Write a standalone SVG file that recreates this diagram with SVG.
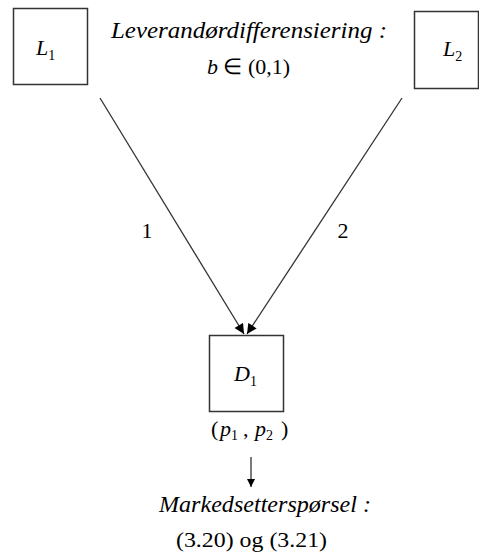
<svg xmlns="http://www.w3.org/2000/svg" width="479" height="557" viewBox="0 0 479 557">
<style>
.box{fill:#fff;stroke:#333;stroke-width:1.5}
.t{font-family:"Liberation Serif","Times New Roman",serif;font-size:22px;fill:#000}
.i{font-style:italic}
.sub{font-size:14px}
.ln{stroke:#333;stroke-width:1.3;fill:none}
</style>
<defs>
<marker id="ah" viewBox="0 0 10 10" refX="10" refY="5" markerWidth="9" markerHeight="8" markerUnits="userSpaceOnUse" orient="auto">
<path d="M0,0 L10,5 L0,10 z" fill="#000"/>
</marker>
<marker id="ah2" viewBox="0 0 10 10" refX="10" refY="5" markerWidth="11" markerHeight="10" markerUnits="userSpaceOnUse" orient="auto">
<path d="M0,0 L10,5 L0,10 z" fill="#000"/>
</marker>
</defs>
<rect width="479" height="557" fill="#fff"/>
<g id="connectors">
<line class="ln" x1="100" y1="98" x2="244" y2="334" marker-end="url(#ah2)"/>
<line class="ln" x1="402" y1="98" x2="247" y2="334" marker-end="url(#ah2)"/>
<line class="ln" x1="251" y1="457" x2="251" y2="487" marker-end="url(#ah)"/>
<text class="t" x="147" y="238" text-anchor="middle">1</text>
<text class="t" x="343" y="238" text-anchor="middle">2</text>
</g>
<g id="L1">
<rect class="box" x="13.5" y="8.5" width="74" height="76"/>
<text class="t" x="36" y="55"><tspan class="i">L</tspan><tspan class="sub" dy="5">1</tspan></text>
</g>
<g id="L2">
<rect class="box" x="414.5" y="11.5" width="64" height="77"/>
<text class="t" x="443" y="56"><tspan class="i">L</tspan><tspan class="sub" dy="5">2</tspan></text>
</g>
<g id="note">
<text class="t i" x="111" y="38" textLength="276" lengthAdjust="spacingAndGlyphs" style="font-size:23px">Leverandørdifferensiering :</text>
<text class="t" x="207" y="74" textLength="83" lengthAdjust="spacingAndGlyphs"><tspan class="i">b</tspan> ∈ (0,1)</text>
</g>
<g id="D1">
<rect class="box" x="209.5" y="335.5" width="74" height="76"/>
<text class="t" x="234" y="381"><tspan class="i">D</tspan><tspan class="sub" dy="5">1</tspan></text>
<text class="t" y="436"><tspan x="211">(</tspan><tspan class="i" x="220">p</tspan><tspan class="sub" dy="4">1</tspan><tspan x="243" dy="-4">,</tspan><tspan class="i" x="255">p</tspan><tspan class="sub" dy="4">2</tspan><tspan x="281" dy="-4">)</tspan></text>
</g>
<g id="demand">
<text class="t i" x="159" y="512" textLength="212" lengthAdjust="spacingAndGlyphs" style="font-size:23px">Markedsetterspørsel :</text>
<text class="t" x="176" y="547" textLength="151" lengthAdjust="spacingAndGlyphs">(3.20) og (3.21)</text>
</g>
</svg>
